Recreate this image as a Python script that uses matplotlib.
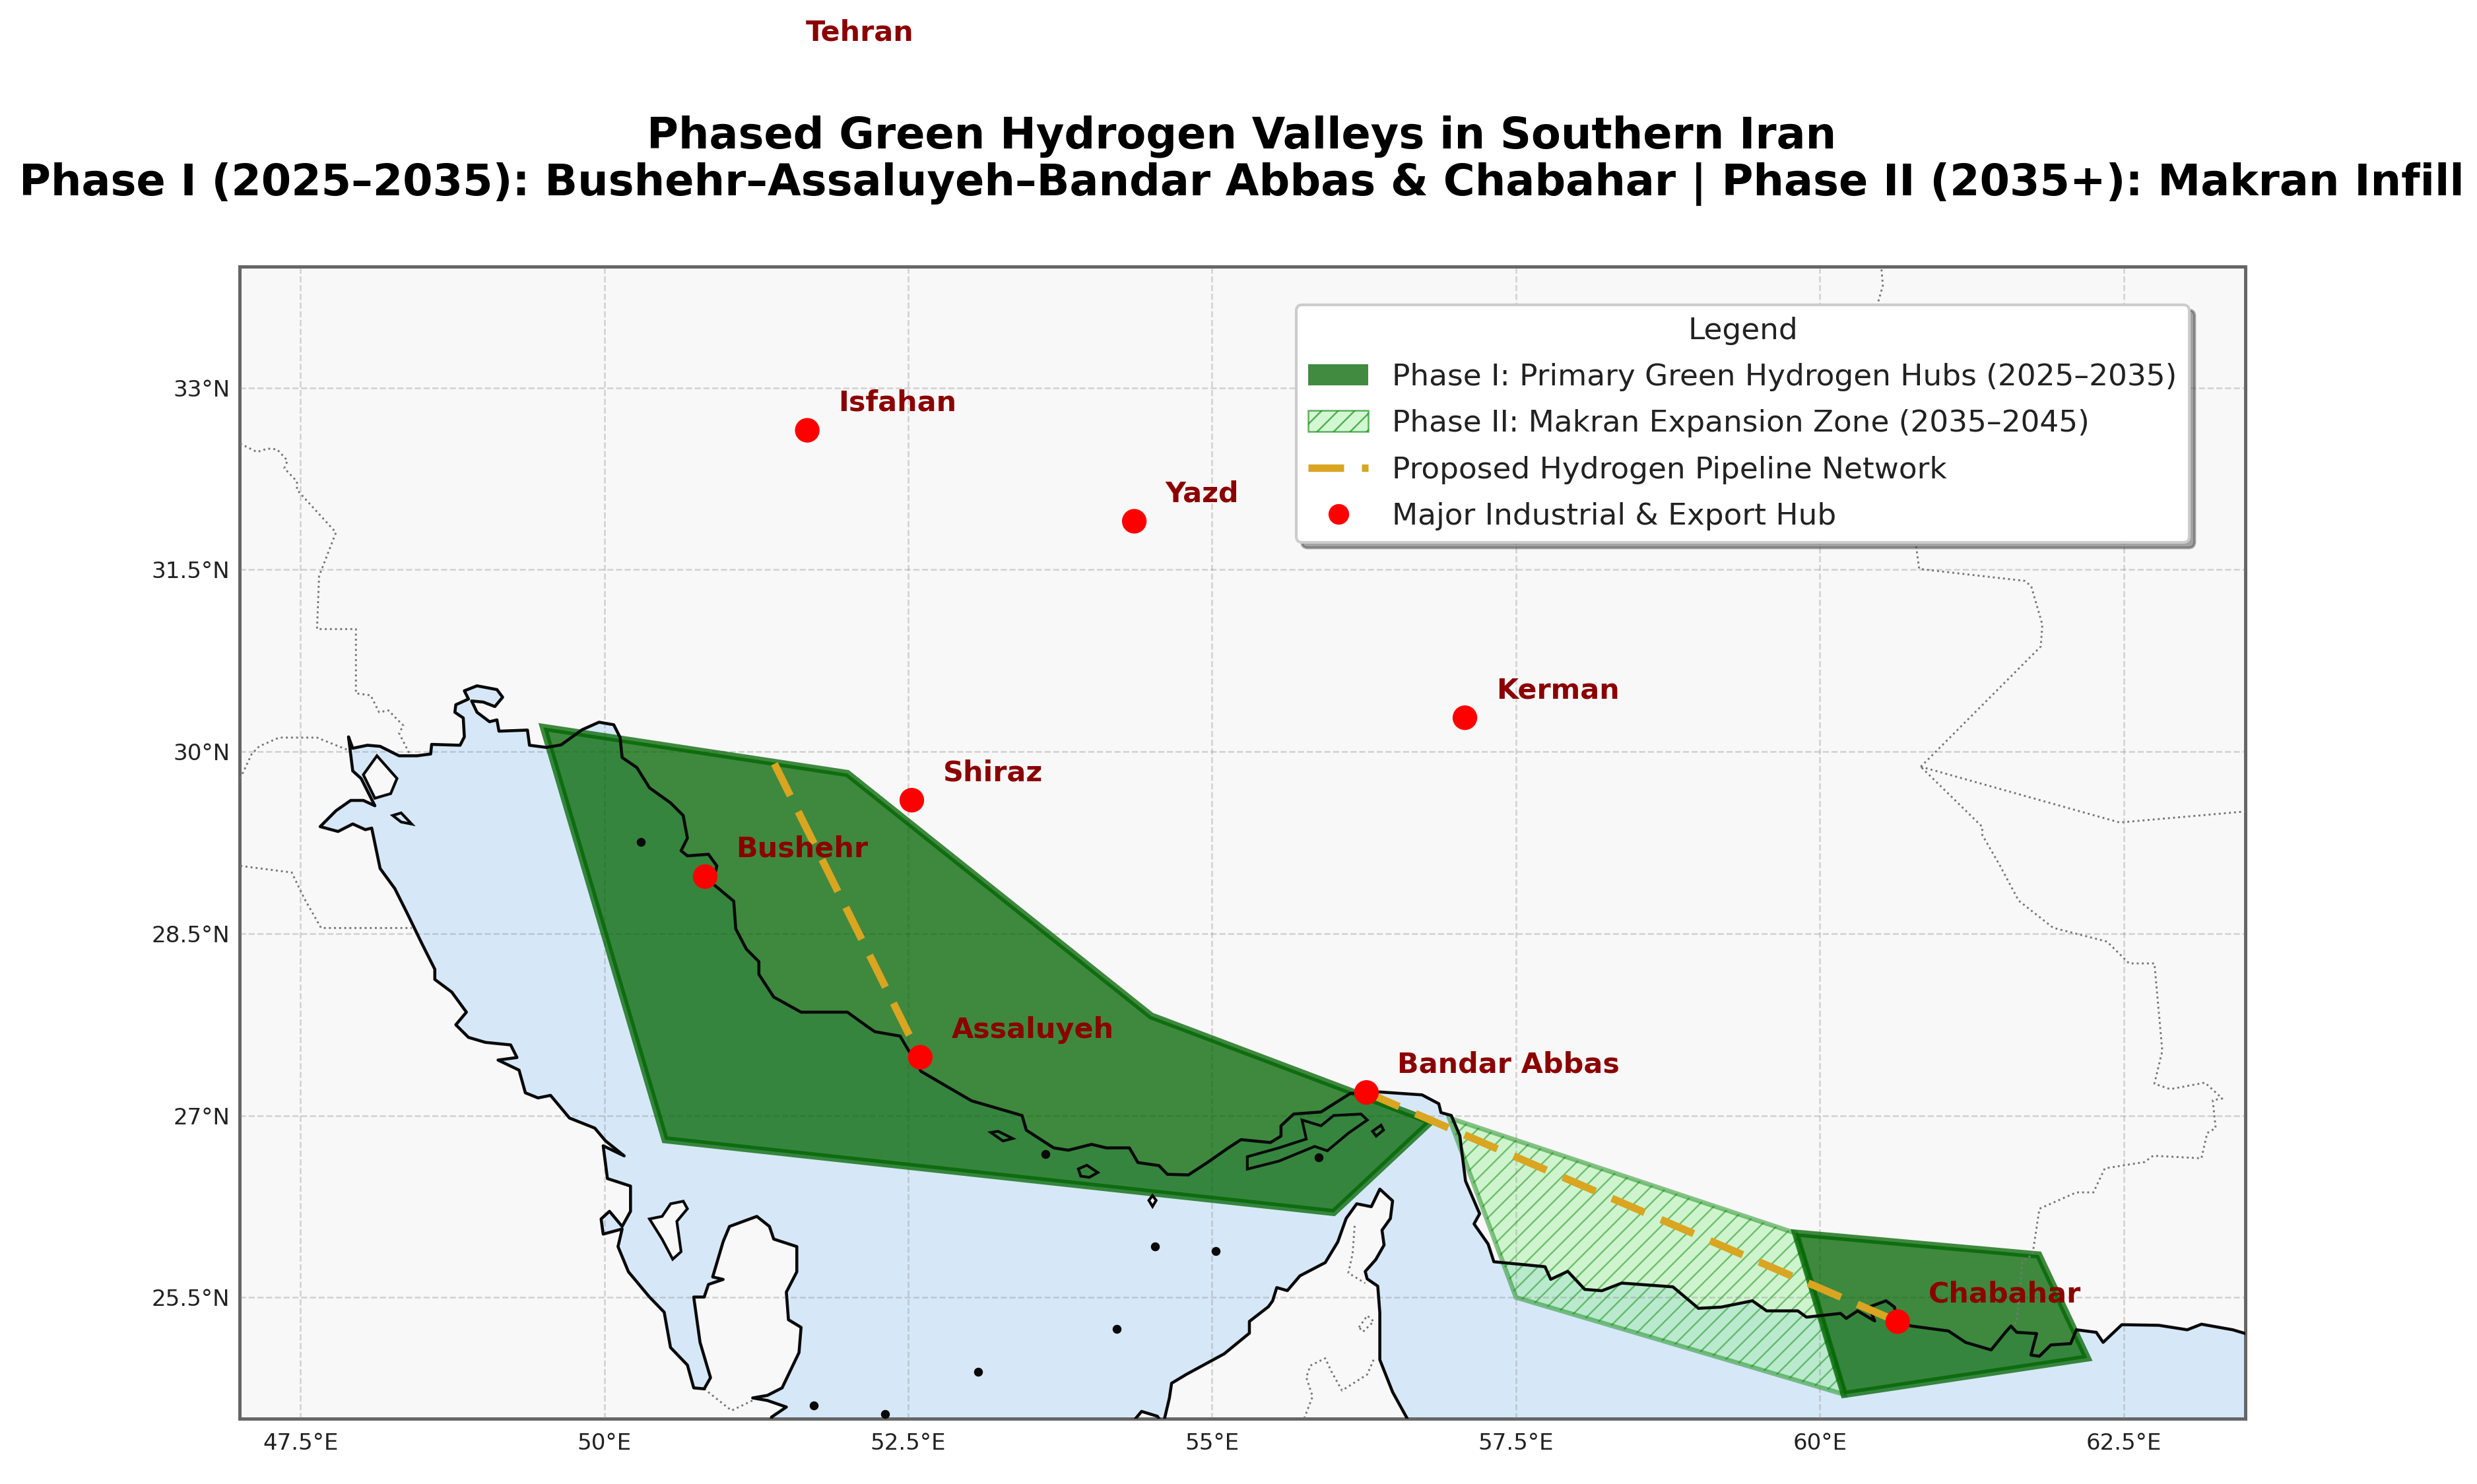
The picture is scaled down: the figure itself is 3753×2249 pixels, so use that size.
import matplotlib
matplotlib.use("Agg")
import matplotlib.pyplot as plt
from matplotlib.patches import Polygon, Patch
from matplotlib.lines import Line2D

plt.rcParams['font.family'] = ['DejaVu Sans']
plt.rcParams['hatch.linewidth'] = 0.6

TITLE = ("Phased Green Hydrogen Valleys in Southern Iran\n"
         "Phase I (2025\u20132035): Bushehr\u2013Assaluyeh\u2013Bandar Abbas & Chabahar | "
         "Phase II (2035+): Makran Infill")

LON_TICKS = [47.5, 50, 52.5, 55, 57.5, 60, 62.5]
LON_LABELS = ["47.5°E", "50°E", "52.5°E", "55°E", "57.5°E", "60°E", "62.5°E"]
LAT_TICKS = [25.5, 27, 28.5, 30, 31.5, 33]
LAT_LABELS = ["25.5°N", "27°N", "28.5°N", "30°N", "31.5°N", "33°N"]

CITY_NAMES = ["Tehran", "Isfahan", "Yazd", "Kerman", "Shiraz", "Bushehr", "Assaluyeh", "Bandar Abbas", "Chabahar"]
CITY_LON = [51.4, 51.67, 54.36, 57.08, 52.53, 50.83, 52.6, 56.27, 60.64]
CITY_LAT = [35.7, 32.65, 31.9, 30.28, 29.6, 28.97, 27.48, 27.19, 25.3]

PHASE1_WEST = [(49.5, 30.2), (52.0, 29.82), (54.5, 27.82), (56.8, 26.95), (56.0, 26.2), (50.5, 26.8)]
PHASE1_EAST = [(59.8, 26.03), (61.8, 25.85), (62.2, 25.0), (60.2, 24.7)]
PHASE2_ZONE = [(56.95, 26.98), (59.8, 26.03), (60.2, 24.7), (57.5, 25.5)]

PIPE_NORTH = [(51.4, 29.9), (52.6, 27.48)]
PIPE_EAST = [(56.27, 27.19), (60.64, 25.3)]

IRAN_COAST = [
    (48.156, 30.044), (48.312, 29.966), (48.459, 29.966), (48.572, 29.981), (48.58, 30.06),
    (48.814, 30.053), (48.849, 30.122), (48.84, 30.278), (48.771, 30.325), (48.779, 30.387),
    (48.883, 30.434), (48.849, 30.502), (48.953, 30.543), (49.117, 30.512), (49.164, 30.449),
    (49.1, 30.372), (49.005, 30.409), (48.909, 30.418), (48.953, 30.325), (49.056, 30.247),
    (49.117, 30.262), (49.134, 30.169), (49.368, 30.178), (49.385, 30.053), (49.524, 30.035),
    (49.645, 30.056), (49.818, 30.181), (49.957, 30.243), (50.078, 30.222), (50.13, 30.118),
    (50.147, 29.952), (50.268, 29.869), (50.372, 29.702), (50.545, 29.578), (50.649, 29.474),
    (50.684, 29.287), (50.632, 29.183), (50.684, 29.141), (50.857, 29.154), (50.926, 29.058),
    (50.892, 28.912), (51.065, 28.767), (51.082, 28.538), (51.169, 28.372), (51.272, 28.268),
    (51.272, 28.164), (51.394, 27.977), (51.619, 27.852), (52.0, 27.852), (52.173, 27.727),
    (52.226, 27.691), (52.433, 27.655), (52.606, 27.364), (52.814, 27.242), (53.022, 27.121),
    (53.437, 27.0), (53.472, 26.879), (53.697, 26.733), (53.818, 26.714), (54.009, 26.762),
    (54.13, 26.733), (54.32, 26.733), (54.39, 26.612), (54.563, 26.587), (54.632, 26.515),
    (54.805, 26.51), (54.961, 26.612), (55.134, 26.733), (55.238, 26.801), (55.48, 26.777),
    (55.567, 26.83), (55.567, 26.915), (55.671, 27.012), (55.896, 27.029), (56.138, 27.182),
    (56.38, 27.194), (56.727, 27.17), (56.865, 27.097), (56.883, 27.024), (56.968, 27.0),
    (57.038, 26.834), (57.085, 26.46), (57.201, 26.19), (57.155, 26.106), (57.271, 25.94),
    (57.318, 25.794), (57.739, 25.753), (57.786, 25.649), (57.926, 25.715), (58.066, 25.566),
    (58.207, 25.555), (58.37, 25.618), (58.791, 25.587), (59.001, 25.41), (59.188, 25.42),
    (59.445, 25.472), (59.562, 25.389), (59.819, 25.389), (59.89, 25.337), (60.17, 25.368),
    (60.217, 25.327), (60.31, 25.389), (60.451, 25.306), (60.404, 25.42), (60.544, 25.472),
    (60.614, 25.42), (60.63, 25.3), (60.754, 25.264), (61.058, 25.223), (61.199, 25.129),
    (61.409, 25.067), (61.526, 25.212), (61.572, 25.264), (61.619, 25.212), (61.783, 25.202),
    (61.736, 25.025), (61.806, 25.015), (61.9, 25.108), (62.063, 25.119), (62.11, 25.233),
    (62.274, 25.212), (62.33, 25.129), (62.484, 25.275), (62.788, 25.27), (63.022, 25.233),
    (63.139, 25.279), (63.396, 25.233), (63.5, 25.202), (63.8, 25.18),
]
SEA_EDGE_EAST = [(63.8, 24.2), (56.61, 24.2)]
OMAN_UAE_COAST = [
    (56.606, 24.5), (56.485, 24.72), (56.38, 24.986), (56.38, 25.374), (56.363, 25.593),
    (56.276, 25.653), (56.26, 25.714), (56.346, 25.811), (56.415, 25.932), (56.398, 26.054),
    (56.467, 26.151), (56.485, 26.296), (56.38, 26.393), (56.31, 26.248), (56.19, 26.272),
    (56.103, 26.151), (56.034, 25.957), (55.931, 25.787), (55.723, 25.678), (55.619, 25.556),
    (55.532, 25.581), (55.498, 25.471), (55.463, 25.423), (55.307, 25.302), (55.307, 25.205),
    (55.1, 25.035), (54.788, 24.865), (54.667, 24.792), (54.649, 24.671), (54.597, 24.45),
    (54.55, 24.52), (54.42, 24.56), (54.37, 24.5), (54.3, 24.4),
]
SEA_EDGE_SOUTH = [(54.3, 24.2), (51.376, 24.2)]
ARABIAN_COAST = [
    (51.376, 24.513), (51.498, 24.596), (51.342, 24.65), (51.221, 24.671), (51.342, 24.692),
    (51.463, 24.754), (51.602, 25.045), (51.619, 25.253), (51.515, 25.316), (51.498, 25.544),
    (51.584, 25.711), (51.584, 25.919), (51.394, 25.981), (51.359, 26.085), (51.255, 26.168),
    (51.03, 26.085), (50.978, 25.96), (50.892, 25.669), (50.978, 25.648), (50.857, 25.607),
    (50.822, 25.503), (50.736, 25.503), (50.788, 25.129), (50.874, 24.838), (50.822, 24.746),
    (50.736, 24.754), (50.684, 24.942), (50.545, 25.087), (50.493, 25.378), (50.372, 25.503),
    (50.199, 25.711), (50.113, 25.919), (50.147, 26.064), (49.991, 26.022), (49.974, 26.147),
    (50.043, 26.21), (50.147, 26.085), (50.216, 26.21), (50.216, 26.418), (50.026, 26.48),
    (49.991, 26.75), (50.164, 26.667), (50.009, 26.792), (49.922, 26.896), (49.714, 26.979),
    (49.558, 27.166), (49.455, 27.145), (49.351, 27.187), (49.299, 27.374), (49.126, 27.457),
    (49.282, 27.478), (49.23, 27.582), (49.022, 27.603), (48.883, 27.644), (48.779, 27.748),
    (48.866, 27.852), (48.745, 28.018), (48.606, 28.122), (48.606, 28.206), (48.502, 28.413),
    (48.381, 28.663), (48.277, 28.871), (48.156, 29.037), (48.087, 29.37), (48.035, 29.357),
    (47.931, 29.404), (47.81, 29.342), (47.663, 29.382), (47.793, 29.513), (47.914, 29.598),
    (48.018, 29.598), (48.113, 29.554), (48.0, 29.779), (47.931, 29.841), (47.896, 30.122),
    (47.931, 30.028), (48.052, 30.053),
]

ISLAND_BUBIYAN = [(48.018, 29.81), (48.13, 29.966), (48.295, 29.779), (48.243, 29.654), (48.113, 29.616)]
ISLAND_FAILAKA = [(48.26, 29.474), (48.329, 29.495), (48.416, 29.403), (48.329, 29.42)]
ISLAND_BAHRAIN = [(50.372, 26.147), (50.476, 26.168), (50.546, 26.272), (50.65, 26.293), (50.684, 26.231),
                  (50.597, 26.127), (50.632, 25.877), (50.563, 25.815), (50.476, 25.98)]
ISLAND_QESHM = [(55.29, 26.66), (55.29, 26.558), (55.55, 26.624), (55.844, 26.745), (55.948, 26.709),
                (56.121, 26.854), (56.277, 26.963), (56.225, 27.012), (56.0, 27.0), (55.896, 26.915),
                (55.74, 26.963), (55.775, 26.806), (55.55, 26.733)]
ISLAND_LAVAN = [(53.18, 26.86), (53.24, 26.87), (53.36, 26.81), (53.28, 26.79)]
ISLAND_KISH = [(53.9, 26.56), (53.97, 26.59), (54.06, 26.53), (53.99, 26.49), (53.92, 26.5)]
ISLAND_ABU_MUSA = [(54.48, 26.3), (54.51, 26.34), (54.54, 26.3), (54.51, 26.25)]
ISLAND_HORMUZ = [(56.32, 26.87), (56.39, 26.92), (56.41, 26.88), (56.35, 26.83)]

ISLET_LON = [50.303, 51.723, 52.312, 53.074, 54.217, 54.528, 55.03, 53.628, 55.878]
ISLET_LAT = [29.257, 24.609, 24.537, 24.889, 25.241, 25.92, 25.884, 26.684, 26.655]

BORDER_IRAN_IRAQ = [(47.005, 32.54), (47.143, 32.471), (47.23, 32.499), (47.308, 32.493), (47.394, 32.4),
                    (47.368, 32.337), (47.472, 32.228), (47.472, 32.159), (47.793, 31.807), (47.654, 31.448),
                    (47.637, 31.011), (47.957, 31.011), (47.957, 30.481), (48.078, 30.465), (48.148, 30.325),
                    (48.225, 30.34), (48.347, 30.215), (48.312, 30.153), (48.399, 29.981)]
BORDER_IRAQ_SOUTH = [(47.005, 29.779), (47.1, 29.981), (47.161, 30.044), (47.325, 30.116), (47.637, 30.116),
                     (47.775, 30.06), (47.896, 30.012)]
BORDER_KUWAIT_SAUDI = [(47.007, 29.058), (47.429, 29.004), (47.533, 28.788), (47.671, 28.546), (48.416, 28.546)]
BORDER_QATAR = [(50.822, 24.746), (51.047, 24.567), (51.22, 24.65)]
BORDER_UAE_NORTH = [(56.173, 26.09), (56.156, 25.86), (56.121, 25.702), (56.26, 25.617)]
BORDER_ENCLAVE = [(56.208, 25.253), (56.277, 25.35), (56.329, 25.302), (56.242, 25.217), (56.208, 25.253)]
BORDER_UAE_SOUTH = [(56.329, 24.986), (56.277, 24.865), (56.069, 24.732), (55.982, 24.889), (55.931, 24.998),
                    (55.809, 24.938), (55.775, 24.841), (55.827, 24.683), (55.757, 24.5)]
BORDER_IRAN_PAK = [(61.563, 25.264), (61.619, 25.295), (61.666, 25.795), (61.75, 25.857), (61.806, 26.231),
                   (62.11, 26.366), (62.25, 26.366), (62.344, 26.564), (62.671, 26.616), (62.741, 26.668),
                   (63.139, 26.647), (63.186, 26.855), (63.256, 26.897), (63.232, 27.126), (63.31, 27.14),
                   (63.168, 27.271), (62.882, 27.217), (62.752, 27.262), (62.817, 27.533), (62.752, 28.254),
                   (62.544, 28.254), (62.362, 28.434), (61.92, 28.547), (61.635, 28.772), (61.479, 29.065),
                   (61.336, 29.313), (61.336, 29.38), (60.83, 29.876)]
BORDER_PAK_AFG = [(60.83, 29.876), (62.466, 29.416), (63.5, 29.507)]
BORDER_IRAN_AFG = [(60.83, 29.876), (61.817, 30.867), (61.83, 31.048), (61.739, 31.363), (61.687, 31.408),
                   (60.817, 31.507), (60.791, 31.701), (60.6, 33.0), (60.479, 33.706), (60.518, 33.842), (60.505, 34.0)]

LEGEND_LABELS = ["Phase I: Primary Green Hydrogen Hubs (2025\u20132035)",
                 "Phase II: Makran Expansion Zone (2035\u20132045)",
                 "Proposed Hydrogen Pipeline Network",
                 "Major Industrial & Export Hub"]

W, H = 3753, 2249
fig = plt.figure(figsize=(W / 300, H / 300), dpi=300, facecolor="white")
ax = fig.add_axes([363 / W, (H - 2150) / H, 3039 / W, 1746 / H])
ax.set_facecolor("#f8f8f8")
ax.set_xlim(47, 63.5)
ax.set_ylim(24.5, 34)

SEA = "#d6e8f8"
sea_loop = IRAN_COAST + SEA_EDGE_EAST + OMAN_UAE_COAST + SEA_EDGE_SOUTH + ARABIAN_COAST
ax.add_patch(Polygon(sea_loop, closed=True, facecolor=SEA, edgecolor="none", zorder=1))

ax.set_xticks(LON_TICKS, LON_LABELS)
ax.set_yticks(LAT_TICKS, LAT_LABELS)
ax.tick_params(length=0, labelsize=8.2, labelcolor="#222222")
ax.tick_params(axis="x", pad=5)
ax.tick_params(axis="y", pad=3.5)
ax.set_axisbelow(False)
ax.grid(True, color="gray", linestyle="--", linewidth=0.6, alpha=0.32, zorder=1.5)
for s in ax.spines.values():
    s.set_color("#666666")
    s.set_linewidth(1.2)

green = (0, 100 / 255, 0)
ax.add_patch(Polygon(PHASE2_ZONE, closed=True, facecolor=(144 / 255, 238 / 255, 144 / 255, 0.4),
                     edgecolor=(0, 0.5, 0, 0.45), hatch="////", linewidth=1.7, zorder=2.5))
for poly in (PHASE1_WEST, PHASE1_EAST):
    ax.add_patch(Polygon(poly, closed=True, facecolor=green, edgecolor=green, alpha=0.75,
                         linewidth=2.6, joinstyle="miter", zorder=3))

for border in (BORDER_IRAN_IRAQ, BORDER_IRAQ_SOUTH, BORDER_KUWAIT_SAUDI, BORDER_QATAR, BORDER_UAE_NORTH,
               BORDER_ENCLAVE, BORDER_UAE_SOUTH, BORDER_IRAN_PAK, BORDER_PAK_AFG, BORDER_IRAN_AFG):
    ax.plot(*zip(*border), color="#777777", linestyle=":", linewidth=0.7, zorder=3.5)

ax.add_patch(Polygon(sea_loop, closed=True, fill=False, edgecolor="#0a0a0a", linewidth=1.1,
                     joinstyle="round", zorder=4))
for isl in (ISLAND_BUBIYAN, ISLAND_FAILAKA, ISLAND_BAHRAIN, ISLAND_QESHM, ISLAND_LAVAN,
            ISLAND_KISH, ISLAND_ABU_MUSA, ISLAND_HORMUZ):
    ax.add_patch(Polygon(isl, closed=True, fill=False, edgecolor="#0a0a0a", linewidth=1.0, zorder=4))
for isl in (ISLAND_BUBIYAN, ISLAND_BAHRAIN, ISLAND_ABU_MUSA):
    ax.add_patch(Polygon(isl, closed=True, facecolor="#f8f8f8", edgecolor="none", zorder=1.2))
ax.scatter(ISLET_LON, ISLET_LAT, s=5, color="#0a0a0a", zorder=4)

PIPE_STYLE = dict(color="#daa520", linewidth=2.7, linestyle=(0, (4.8, 2.4)), zorder=5)
ax.plot(*zip(*PIPE_NORTH), **PIPE_STYLE)
ax.plot(*zip(*PIPE_EAST), **PIPE_STYLE)

ax.scatter(CITY_LON, CITY_LAT, s=80, color="red", edgecolor="none", zorder=6)
for name, lon, lat in zip(CITY_NAMES, CITY_LON, CITY_LAT):
    ax.annotate(name, (lon, lat), xytext=(11.3, 10), textcoords="offset points", ha="left", va="center",
                fontsize=10.3, fontweight="bold", color="#8b0000", zorder=7, annotation_clip=False)

handles = [
    Patch(facecolor=green, edgecolor="none", alpha=0.75),
    Patch(facecolor=(144 / 255, 238 / 255, 144 / 255, 0.4), edgecolor=(0, 0.5, 0, 0.6), hatch="////", linewidth=0.6),
    Line2D([0], [0], color="#daa520", linewidth=2.7, linestyle=(0, (4.8, 2.4))),
    Line2D([0], [0], color="none", marker="o", markerfacecolor="red", markeredgecolor="none", markersize=7.5),
]
leg = ax.legend(handles, LEGEND_LABELS, title="Legend", loc="upper right", bbox_to_anchor=(0.972, 0.967),
                borderaxespad=0, fontsize=10.9, title_fontsize=10.9, framealpha=1, fancybox=True, shadow=True,
                handlelength=2.0, labelspacing=0.6, facecolor="white", edgecolor="#cccccc")
leg.set_zorder(10)
for t in leg.get_texts():
    t.set_color("#222222")
leg.get_title().set_color("#222222")

fig.text(0.5012, 0.892, TITLE, ha="center", va="center", fontsize=15.7, fontweight="bold",
         color="black", linespacing=1.14)

fig.savefig("out.png", dpi=300)
